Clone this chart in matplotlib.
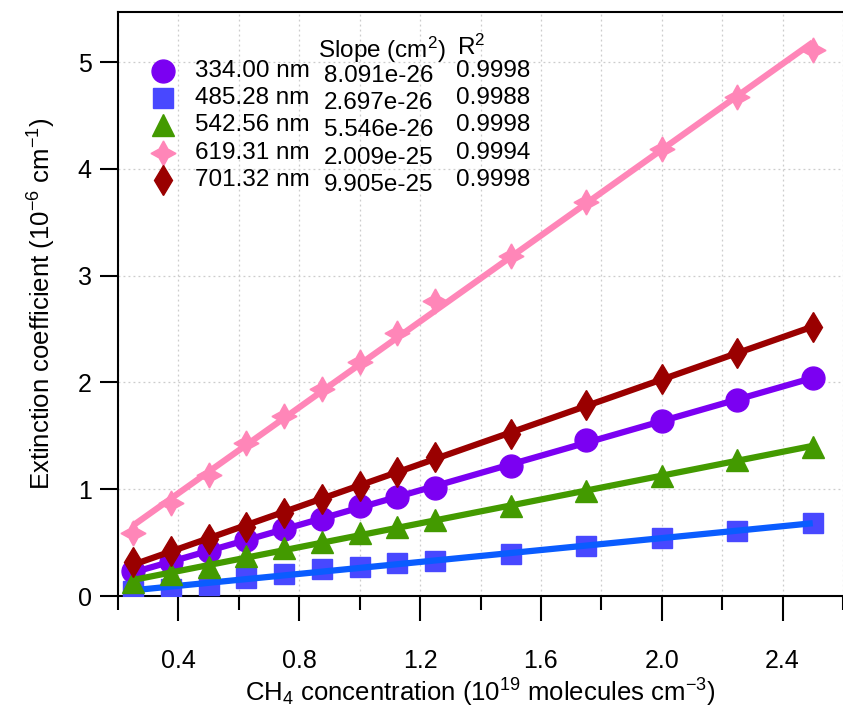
import numpy as np
import matplotlib
matplotlib.use('Agg')
from matplotlib import pyplot as plt

plt.rcParams['font.family'] = ['Liberation Sans', 'DejaVu Sans']
plt.rcParams['mathtext.fontset'] = 'custom'
plt.rcParams['mathtext.rm'] = 'Liberation Sans'
plt.rcParams['mathtext.it'] = 'Liberation Sans:italic'
plt.rcParams['mathtext.default'] = 'regular'

# CH4 concentration (1e19 molecules cm-3)
conc = [0.25, 0.375, 0.5, 0.625, 0.75, 0.875, 1.0, 1.125, 1.25, 1.5, 1.75, 2.0, 2.25, 2.5]

# extinction coefficient (1e-6 cm-1)
ext_334 = [0.23, 0.32, 0.42, 0.52, 0.63, 0.72, 0.84, 0.93, 1.01, 1.22, 1.46, 1.64, 1.84, 2.04]
ext_485 = [0.05, 0.07, 0.10, 0.17, 0.21, 0.25, 0.27, 0.31, 0.33, 0.39, 0.47, 0.54, 0.61, 0.68]
ext_542 = [0.13, 0.21, 0.27, 0.37, 0.45, 0.51, 0.59, 0.65, 0.71, 0.84, 0.98, 1.12, 1.27, 1.40]
ext_619 = [0.59, 0.87, 1.13, 1.43, 1.69, 1.94, 2.19, 2.46, 2.76, 3.18, 3.69, 4.19, 4.67, 5.11]
ext_701 = [0.32, 0.42, 0.53, 0.65, 0.78, 0.905, 1.03, 1.16, 1.30, 1.52, 1.79, 2.03, 2.28, 2.52]

wavelengths = ['334.00 nm', '485.28 nm', '542.56 nm', '619.31 nm', '701.32 nm']
slopes = ['8.091e-26', '2.697e-26', '5.546e-26', '2.009e-25', '9.905e-25']
r2 = ['0.9998', '0.9988', '0.9998', '0.9994', '0.9998']

series = [ext_334, ext_485, ext_542, ext_619, ext_701]
marker_col = ['#7b00f2', '#4848ff', '#439a00', '#ff86b8', '#9a0000']
line_col = ['#7b00f2', '#0a5cff', '#439a00', '#ff86b8', '#9a0000']
markers = ['o', 's', '^', (4, 1, 0), 'd']
msizes = [16.5, 15, 16, 18, 15.5]

fig = plt.figure(figsize=(8.43, 7.13), dpi=100)
ax = fig.add_axes([118 / 843, 117 / 713, 725 / 843, 584 / 713])

x = np.array(conc)
order = [1, 2, 0, 4, 3]
for i in order:
    y = np.array(series[i])
    ax.plot(x, y, linestyle='none', marker=markers[i], ms=msizes[i],
            color=marker_col[i], mec=marker_col[i], zorder=3 + i * 0.1)
    k, b = np.polyfit(x, y, 1)
    ax.plot(x[[0, -1]], k * x[[0, -1]] + b, color=line_col[i], lw=4.5,
            solid_capstyle='butt', zorder=3.05 + i * 0.1)

ax.set_xlim(0.2, 2.6)
ax.set_ylim(0, 5.47)
ax.set_xticks([0.4, 0.8, 1.2, 1.6, 2.0, 2.4])
ax.set_xticks(np.arange(0.2, 2.61, 0.2), minor=True)
ax.set_yticks([0, 1, 2, 3, 4, 5])
ax.xaxis.set_major_formatter(matplotlib.ticker.FormatStrFormatter('%.1f'))

ax.grid(True, which='both', axis='x', color='#cccccc', lw=0.9, ls=(0, (1.5, 2.5)))
ax.grid(True, which='major', axis='y', color='#cccccc', lw=0.9, ls=(0, (1.5, 2.5)))
ax.set_axisbelow(True)

for s in ['left', 'bottom', 'top']:
    ax.spines[s].set_linewidth(1.5)
ax.spines['right'].set_visible(False)

ax.tick_params(axis='y', which='major', direction='out', length=13, width=1.5, labelsize=18, pad=6)
ax.tick_params(axis='x', which='major', direction='out', length=18, width=1.5, labelsize=18, pad=20)
ax.tick_params(axis='x', which='minor', direction='out', length=10, width=1.5)

ax.set_xlabel('CH$_4$ concentration (10$^{19}$ molecules cm$^{-3}$)', fontsize=18.5, labelpad=3)
ax.set_ylabel('Extinction coefficient (10$^{-6}$ cm$^{-1}$)', fontsize=18.5, labelpad=14)

# legend table
def fx(px):
    return (px - 118) / 725

def fy(py):
    return (596 - py) / 584

row_y = [71, 98, 125, 153, 180]
ax.text(fx(318), fy(50), 'Slope (cm$^2$)', transform=ax.transAxes, fontsize=17.5, va='center', ha='left')
ax.text(fx(457), fy(47), 'R$^2$', transform=ax.transAxes, fontsize=17.5, va='center', ha='left')
for i in range(5):
    ax.plot([fx(163)], [fy(row_y[i])], transform=ax.transAxes, linestyle='none',
            marker=markers[i], ms=msizes[i], color=marker_col[i], clip_on=False)
    ax.text(fx(195), fy(row_y[i]), wavelengths[i], transform=ax.transAxes, fontsize=17.5, va='center')
    ax.text(fx(324), fy(row_y[i] + 5), slopes[i], transform=ax.transAxes, fontsize=17.5, va='center')
    ax.text(fx(456), fy(row_y[i]), r2[i], transform=ax.transAxes, fontsize=17.5, va='center')

plt.savefig('out.png', dpi=100)
